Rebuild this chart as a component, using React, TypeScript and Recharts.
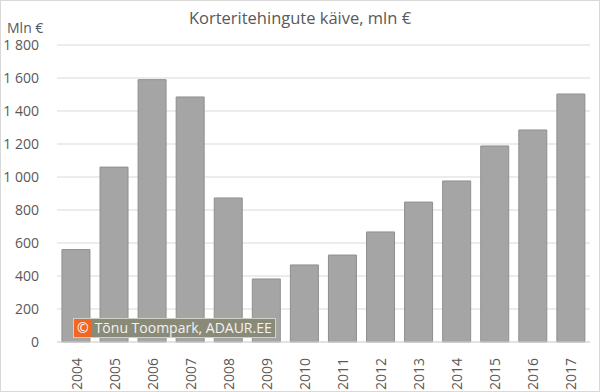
import { BarChart, Bar, XAxis, YAxis, CartesianGrid } from 'recharts'

const years = ['2004', '2005', '2006', '2007', '2008', '2009', '2010', '2011', '2012', '2013', '2014', '2015', '2016', '2017']
const turnover = [560, 1060, 1590, 1485, 873, 382, 467, 527, 667, 848, 976, 1188, 1285, 1503]
const yTicks = [0, 200, 400, 600, 800, 1000, 1200, 1400, 1600, 1800]

const font = '"Open Sans", "Liberation Sans", sans-serif'
const textColor = '#595959'

const fmt = (v: number) => String(v).replace(/\B(?=(\d{3})+(?!\d))/g, ' ')

function YearTick({ x, y, payload }: any) {
  return (
    <text
      x={x}
      y={y + 8}
      transform={`rotate(-90, ${x}, ${y + 8})`}
      textAnchor="end"
      dominantBaseline="central"
      fontSize={14}
      fontFamily={font}
      fill={textColor}
    >
      {payload.value}
    </text>
  )
}

export default function App() {
  const chartData = years.map((year, i) => ({ year, value: turnover[i] }))

  return (
    <div
      style={{
        position: 'absolute',
        top: 0,
        left: 0,
        width: 600,
        height: 392,
        boxSizing: 'border-box',
        border: '1px solid #d9d9d9',
        background: '#fff',
        fontFamily: font,
      }}
    >
      <div style={{ position: 'absolute', top: 5, left: 0, width: 598, textAlign: 'center', fontSize: 16.5, color: textColor }}>
        Korteritehingute käive, mln €
      </div>
      <div style={{ position: 'absolute', top: 17, left: 6, fontSize: 14, color: textColor }}>Mln €</div>
      <div style={{ position: 'absolute', top: -1, left: -1 }}>
        <BarChart
          width={600}
          height={392}
          data={chartData}
          margin={{ top: 45, right: 10, left: 0, bottom: 0 }}
          barCategoryGap="13%"
        >
          <CartesianGrid vertical={false} stroke="#d9d9d9" />
          <XAxis
            dataKey="year"
            height={50}
            interval={0}
            tick={<YearTick />}
            tickLine={false}
            axisLine={{ stroke: '#d9d9d9' }}
          />
          <YAxis
            width={57}
            domain={[0, 1800]}
            ticks={yTicks}
            tickFormatter={fmt}
            tick={{ fontSize: 14, fill: textColor, fontFamily: font }}
            tickLine={false}
            axisLine={false}
            tickMargin={12}
          />
          <Bar dataKey="value" fill="#a5a5a5" stroke="#8f8f8f" strokeWidth={1} isAnimationActive={false} />
        </BarChart>
      </div>
      <div
        style={{
          position: 'absolute',
          left: 72,
          top: 317,
          height: 18,
          display: 'flex',
          alignItems: 'center',
          background: '#8a8a78',
          border: '1px solid #d0d0c8',
          fontSize: 14,
          color: '#f2f2f2',
          lineHeight: '18px',
        }}
      >
        <span style={{ background: '#f26522', color: '#fff', padding: '0 3px', height: 18 }}>©</span>
        <span style={{ padding: '0 3px' }}>Tõnu Toompark, ADAUR.EE</span>
      </div>
    </div>
  )
}
